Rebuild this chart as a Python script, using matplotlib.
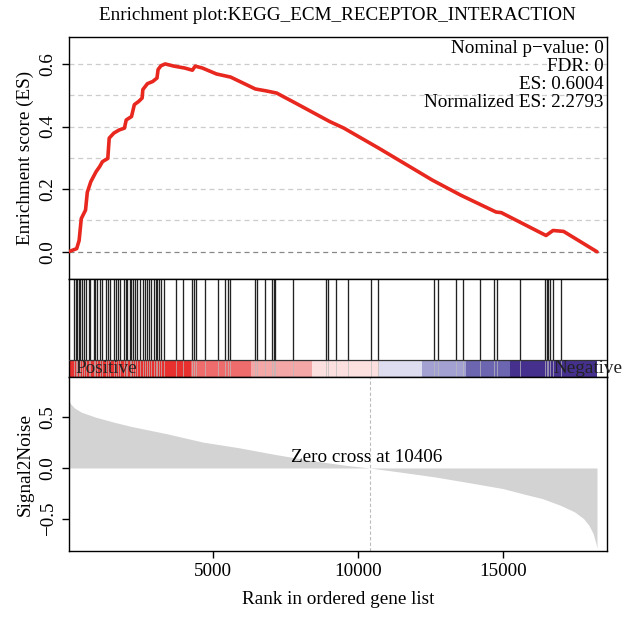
import matplotlib
matplotlib.use("Agg")
import matplotlib.pyplot as plt
import numpy as np

plt.rcParams["font.family"] = ["Liberation Serif", "DejaVu Serif"]
plt.rcParams["axes.unicode_minus"] = True

n_genes = 18250
x_max = 18600
zero_cross = 10406

# running enrichment score
es_rank = [0, 281, 366, 440, 587, 648, 770, 953, 1075, 1173, 1356, 1405, 1564, 1747,
           1931, 1992, 2175, 2273, 2420, 2542, 2566, 2725, 2909, 3055, 3092, 3190,
           3337, 3642, 4008, 4277, 4375, 4620, 5108, 5597, 6452, 6819, 7186, 7797,
           9019, 9508, 10730, 12562, 13540, 14762, 14945, 16490, 16733, 17098, 18250]
es_value = [0.0, 0.01, 0.036, 0.106, 0.133, 0.19, 0.224, 0.256, 0.272, 0.288, 0.298,
            0.363, 0.379, 0.389, 0.395, 0.421, 0.432, 0.47, 0.48, 0.491, 0.518, 0.537,
            0.544, 0.555, 0.582, 0.594, 0.600, 0.593, 0.587, 0.58, 0.593, 0.587, 0.568,
            0.558, 0.52, 0.514, 0.507, 0.477, 0.416, 0.395, 0.33, 0.229, 0.181, 0.127,
            0.125, 0.052, 0.068, 0.065, 0.0]

# positions of gene-set members in the ranked list
hits = [198, 244, 290, 348, 406, 464, 545, 615, 696, 754, 870, 916, 985, 1078, 1159,
        1310, 1356, 1425, 1564, 1634, 1703, 1773, 1912, 1970, 2028, 2120, 2167, 2236,
        2282, 2375, 2468, 2584, 2630, 2699, 2780, 2838, 2954, 3012, 3070, 3128, 3186,
        3301, 3707, 3938, 4251, 4320, 4401, 4714, 5154, 5409, 5502, 5583, 6451, 6521,
        6776, 7030, 7088, 7123, 7760, 8899, 8960, 9230, 9650, 10457, 10689, 12623,
        12774, 13376, 13607, 14209, 14684, 14788, 15593, 16456, 16514, 16571, 16629,
        16721, 16997]

# colour bar segments (rank boundaries) and colours
bar_edges = [0, 4218, 6314, 8411, 10739, 12211, 13724, 15239, 18250]
bar_colors = ["#E8312F", "#EE6C6C", "#F3A7A7", "#FCE0E0",
              "#DDDDEF", "#A3A1D2", "#6C66B0", "#45318D"]

# ranked list metric (signal to noise)
s2n_rank = [0, 74, 197, 444, 938, 1555, 2172, 3406, 4640, 5874, 7108, 8342, 9576,
            10406, 11427, 12661, 13895, 15005, 15746, 16363, 16980, 17473, 17782,
            17967, 18115, 18214, 18250]
s2n_value = [0.668, 0.629, 0.59, 0.547, 0.498, 0.45, 0.407, 0.335, 0.254, 0.199,
             0.134, 0.075, 0.026, 0.0, -0.039, -0.088, -0.147, -0.202, -0.257, -0.30,
             -0.365, -0.43, -0.495, -0.56, -0.642, -0.739, -0.788]

stats = ["Nominal p\u2212value: 0", "FDR: 0", "ES: 0.6004", "Normalized ES: 2.2793"]

fig = plt.figure(figsize=(6.27, 6.2), dpi=100)
left, width = 0.1093, 0.859
ax1 = fig.add_axes([left, 0.55, width, 0.3903])
ax2 = fig.add_axes([left, 0.392, width, 0.158])
ax3 = fig.add_axes([left, 0.1113, width, 0.2806])

fs = 13.8

# --- top: enrichment score
for g in np.arange(0.1, 0.65, 0.1):
    ax1.axhline(g, color="#CCCCCC", lw=0.9, ls=(0, (4, 3)), zorder=1)
ax1.axhline(0, color="#888888", lw=0.9, ls=(0, (4, 3)), zorder=1)
ax1.plot(es_rank, es_value, color="#E8271F", lw=2.6, zorder=3, solid_capstyle="round")
ax1.set_xlim(0, x_max)
ax1.set_ylim(-0.087, 0.686)
ax1.set_xticks([])
ax1.set_yticks([0.0, 0.2, 0.4, 0.6])
ax1.set_yticklabels(["0.0", "0.2", "0.4", "0.6"], rotation=90, va="center")
ax1.set_ylabel("Enrichment score (ES)", fontsize=fs)
ax1.set_title("Enrichment plot:KEGG_ECM_RECEPTOR_INTERACTION", fontsize=fs, pad=12)
for i, s in enumerate(stats):
    ax1.text(0.993, 0.988 - i * 0.074, s, transform=ax1.transAxes, ha="right",
             va="top", fontsize=fs)

# --- middle: hits and colour bar
bar_top = 0.173
for a, b, c in zip(bar_edges[:-1], bar_edges[1:], bar_colors):
    ax2.axvspan(a, b, ymin=0, ymax=bar_top, color=c, lw=0, zorder=1)
ax2.vlines(hits, bar_top, 1, color="#222222", lw=0.95, zorder=2)
ax2.vlines(hits, 0, bar_top, color="#BBBBBB", lw=0.7, alpha=0.7, zorder=2)
ax2.axhline(bar_top, color="#333333", lw=0.9, zorder=3)
ax2.text(250, bar_top / 2, "Positive", fontsize=fs, va="center", ha="left",
         color="#222222", zorder=4)
ax2.text(16750, bar_top / 2, "Negative", fontsize=fs, va="center", ha="left",
         color="#222222", zorder=4, clip_on=False)
ax2.set_xlim(0, x_max)
ax2.set_ylim(0, 1)
ax2.set_xticks([])
ax2.set_yticks([])

# --- bottom: ranked list metric
ax3.fill_between(s2n_rank, 0, s2n_value, color="#D3D3D3", lw=0)
ax3.axvline(zero_cross, color="#BBBBBB", lw=0.8, ls=(0, (3, 2)))
ax3.text(zero_cross - 120, 0.015, "Zero cross at %d" % zero_cross, ha="center",
         va="bottom", fontsize=fs)
ax3.set_xlim(0, x_max)
ax3.set_ylim(-0.814, 0.892)
ax3.set_xticks([5000, 10000, 15000])
ax3.set_yticks([-0.5, 0.0, 0.5])
ax3.set_yticklabels(["\u22120.5", "0.0", "0.5"], rotation=90, va="center")
ax3.set_ylabel("Signal2Noise", fontsize=fs)
ax3.set_xlabel("Rank in ordered gene list", fontsize=fs, labelpad=8)

for ax in (ax1, ax2, ax3):
    for sp in ax.spines.values():
        sp.set_linewidth(1.0)
    ax.tick_params(labelsize=fs, length=5, width=1.0)

fig.savefig("out.png", dpi=100)
